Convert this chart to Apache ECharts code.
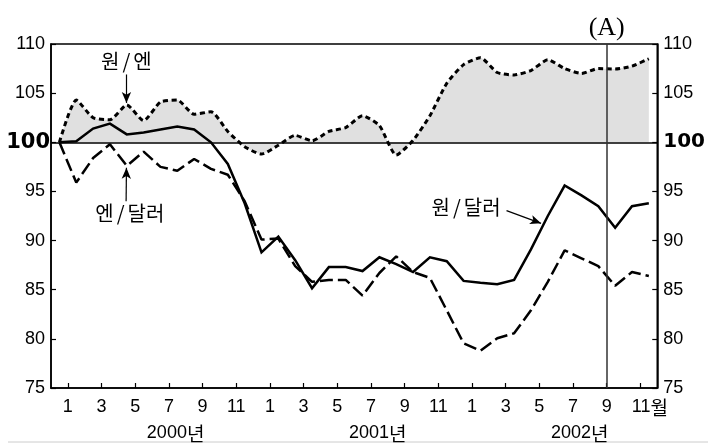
<!DOCTYPE html>
<html><head><meta charset="utf-8">
<script src="https://cdn.jsdelivr.net/npm/echarts@6/dist/echarts.min.js"></script>
<style>html,body{margin:0;padding:0;background:#fff}#c{width:708px;height:443px}</style>
</head><body><div id="c"></div>
<script>
// Month tick labels (odd months, Jan 2000 .. Nov 2002)
const monthTicks = ['1','3','5','7','9','11','1','3','5','7','9','11','1','3','5','7','9','11'];
const yearLabels = ['2000년','2001년','2002년'];
const yTicks = [75, 80, 85, 90, 95, 100, 105, 110];
// Month-end index values, Dec 1999 = 100 ... Nov 2002
const wonYen = [100, 104.3, 102.5, 102.3, 103.8, 102.2, 104.1, 104.3, 102.85, 103.1, 101.1, 99.55,
  98.8, 99.7, 100.7, 100.15, 101.1, 101.5, 102.7, 101.7, 98.7, 100.2, 102.7, 106.0,
  107.9, 108.6, 107.1, 106.85, 107.3, 108.4, 107.5, 107.0, 107.5, 107.45, 107.75, 108.5];
const wonDollar = [100, 100.1, 101.4, 101.9, 100.8, 101.0, 101.3, 101.6, 101.3, 100.0, 97.8, 93.8,
  88.8, 90.4, 88.0, 85.15, 87.3, 87.3, 86.9, 88.3, 87.6, 86.8, 88.3, 87.9,
  85.9, 85.7, 85.55, 86.0, 89.1, 92.5, 95.6, 94.6, 93.5, 91.3, 93.5, 93.8];
const yenDollar = [100, 95.9, 98.4, 99.8, 97.6, 99.05, 97.5, 97.1, 98.3, 97.3, 96.7, 94.0,
  90.1, 90.2, 87.4, 85.8, 86.0, 86.0, 84.4, 86.7, 88.4, 86.8, 86.2, 82.9,
  79.55, 78.8, 80.06, 80.57, 82.9, 85.8, 89.0, 88.2, 87.4, 85.4, 86.8, 86.4];
const markMonth = 32;      // Sep 2002 (months since Jan 2000)
const markLabel = '(A)';
const seriesNames = ['원/엔', '원/달러', '엔/달러'];

const toPts = arr => arr.map((v, i) => [i - 0.5, v]);
const tickVals = monthTicks.map((_, k) => 2 * k);
const yearVals = yearLabels.map((_, k) => 12 * k + 6.4);
const lastTick = tickVals[tickVals.length - 1];

const numFont = 'Liberation Sans, Arial, sans-serif';
const krFont = 'Noto Sans CJK KR, sans-serif';

function noteText(coord, t) {
  const parts = t.split('/');
  return {
    coord: coord, symbol: 'circle', symbolSize: 1, itemStyle: {color: 'rgba(0,0,0,0)'},
    label: {show: true, position: 'inside', formatter: parts[0] + '{s|/}' + parts[1],
      color: '#000', fontSize: 20, fontFamily: krFont,
      rich: {s: {padding: [0, 3], fontSize: 20, fontFamily: krFont, color: '#000'}}}
  };
}
function arrow(from, to) {
  return [{coord: from, symbol: 'none'}, {coord: to, symbol: 'arrow', symbolSize: [7, 11],
    lineStyle: {color: '#000', width: 1.2, type: 'solid'}, label: {show: false}}];
}

const chart = echarts.init(document.getElementById('c'), null, {renderer: 'canvas'});
chart.setOption({
  animation: false,
  backgroundColor: '#fff',
  grid: {left: 51, right: 44, top: 44, bottom: 55, show: true, borderColor: '#000', borderWidth: 1.5, backgroundColor: 'transparent'},
  xAxis: [{
    type: 'value', min: -1, max: 35, position: 'bottom',
    axisLine: {show: true, onZero: false, lineStyle: {color: '#000', width: 1.5}},
    axisTick: {show: true, inside: true, length: 5, customValues: tickVals, lineStyle: {color: '#000', width: 1.2}},
    axisLabel: {show: true, customValues: tickVals, margin: 10, color: '#000', fontSize: 18, fontFamily: numFont,
      formatter: v => {
        const k = Math.round(v / 2);
        return v === lastTick ? '{p|}' + monthTicks[k] + '{m|월}' : monthTicks[k];
      },
      rich: {p: {width: 19}, m: {fontSize: 19, fontFamily: krFont, color: '#000'}}},
    splitLine: {show: false}
  }, {
    type: 'value', min: -1, max: 35, position: 'bottom', offset: 26,
    axisLine: {show: false, onZero: false}, axisTick: {show: false}, splitLine: {show: false},
    axisLabel: {show: true, customValues: yearVals, margin: 10, color: '#000', fontSize: 18, fontFamily: numFont,
      formatter: v => {
        const k = Math.round((v - 6.4) / 12);
        const s = yearLabels[k];
        return s.slice(0, 4) + '{k|' + s.slice(4) + '}';
      },
      rich: {k: {fontSize: 19, fontFamily: krFont, color: '#000'}}}
  }],
  yAxis: [{
    type: 'value', min: yTicks[0], max: yTicks[yTicks.length - 1], interval: 5, position: 'left',
    axisLine: {show: true, onZero: false, lineStyle: {color: '#000', width: 1.5}},
    axisTick: {show: true, inside: true, length: 5, lineStyle: {color: '#000', width: 1.2}},
    splitLine: {show: false},
    axisLabel: {margin: 1, color: '#000', fontSize: 18, fontFamily: numFont,
      formatter: v => v === 100 ? '{b|' + v + '}' : '{n|' + v + '}',
      rich: {n: {padding: [0, 5, 0, 0], fontSize: 18, fontFamily: numFont, color: '#000'},
             b: {fontSize: 21, fontWeight: 'bold', fontFamily: 'DejaVu Sans, sans-serif', color: '#000'}}}
  }, {
    type: 'value', min: yTicks[0], max: yTicks[yTicks.length - 1], interval: 5, position: 'right',
    axisLine: {show: true, onZero: false, lineStyle: {color: '#000', width: 1.5}},
    axisTick: {show: true, inside: true, length: 5, lineStyle: {color: '#000', width: 1.2}},
    splitLine: {show: false},
    axisLabel: {margin: 6, color: '#000', fontSize: 18, fontFamily: numFont,
      formatter: v => v === 100 ? '{b|' + v + '}' : '{n|' + v + '}',
      rich: {n: {fontSize: 18, fontFamily: numFont, color: '#000'},
             b: {fontSize: 20, fontWeight: 'bold', fontFamily: 'DejaVu Sans, sans-serif', color: '#000'}}}
  }],
  series: [{
    name: seriesNames[0], type: 'line', data: toPts(wonYen), symbol: 'none', smooth: 0.2, z: 2,
    lineStyle: {color: '#000', width: 3, type: [5, 3.5], cap: 'butt'},
    areaStyle: {color: '#e0e0e0', opacity: 1, origin: 100},
    markLine: {
      silent: true, symbol: ['none', 'none'], animation: false,
      label: {show: false},
      data: [
        {yAxis: 100, lineStyle: {color: '#000', width: 1.5, type: 'solid'}, label: {show: false}},
        {xAxis: markMonth, lineStyle: {color: '#333', width: 1.5, type: 'solid'},
          label: {show: true, position: 'end', formatter: markLabel, distance: 3, color: '#000', fontSize: 26,
            fontFamily: 'Liberation Serif, DejaVu Serif, serif'}},
        arrow([3.48, 106.9], [3.48, 104.0]),
        arrow([3.46, 94.0], [3.48, 97.4]),
        arrow([26.05, 93.05], [28.1, 91.75])
      ]
    },
    markPoint: {
      silent: true, animation: false,
      data: [noteText([3.48, 108.2], seriesNames[0]), noteText([3.68, 92.8], seriesNames[2]), noteText([23.65, 93.4], seriesNames[1])]
    }
  }, {
    name: seriesNames[1], type: 'line', data: toPts(wonDollar), symbol: 'none', z: 3,
    lineStyle: {color: '#000', width: 2.5, type: 'solid', join: 'miter'}
  }, {
    name: seriesNames[2], type: 'line', data: toPts(yenDollar), symbol: 'none', z: 3,
    lineStyle: {color: '#000', width: 2.5, type: [13, 5], cap: 'butt'}
  }],
  graphic: [{type: 'line', shape: {x1: 8, y1: 442, x2: 708, y2: 442}, style: {stroke: '#ccc', lineWidth: 1}, silent: true}]
});
</script>
</body></html>
